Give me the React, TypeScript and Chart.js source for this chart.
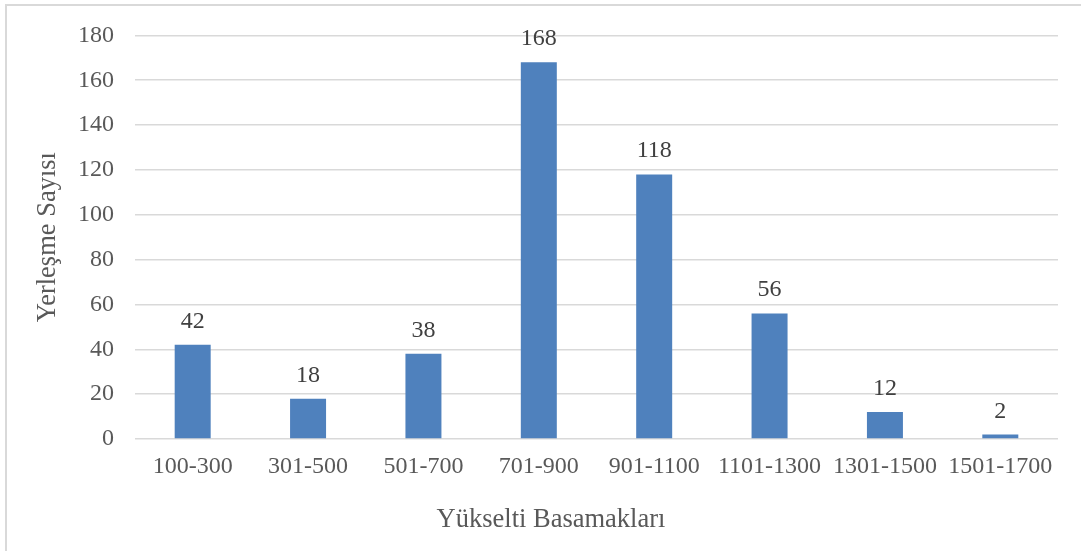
import React, { useEffect, useRef } from "react";
import { Chart, registerables } from "chart.js";

Chart.register(...registerables);

const categories = ["100-300", "301-500", "501-700", "701-900", "901-1100", "1101-1300", "1301-1500", "1501-1700"];
const settlementCounts = [42, 18, 38, 168, 118, 56, 12, 2];
const yMin = 0;
const yMax = 180;
const yStep = 20;
const xTitle = "Yükselti Basamakları";
const yTitle = "Yerleşme Sayısı";

const FONT = "'Liberation Serif', 'Times New Roman', serif";
const TEXT = "#595959";

const valueLabels = {
  id: "valueLabels",
  afterDatasetsDraw(chart: any) {
    const ctx = chart.ctx;
    const meta = chart.getDatasetMeta(0);
    ctx.save();
    ctx.font = `24px ${FONT}`;
    ctx.fillStyle = "#404040";
    ctx.textAlign = "center";
    ctx.textBaseline = "alphabetic";
    meta.data.forEach((bar: any, i: number) => {
      ctx.fillText(String(settlementCounts[i]), bar.x, bar.y - 17);
    });
    ctx.restore();
  },
};

export default function App() {
  const ref = useRef<HTMLCanvasElement | null>(null);
  useEffect(() => {
    if (!ref.current) return;
    const chart = new Chart(ref.current, {
      type: "bar",
      data: {
        labels: categories,
        datasets: [
          {
            data: settlementCounts,
            backgroundColor: "#4F81BD",
            categoryPercentage: 1,
            barPercentage: 0.312,
          },
        ],
      },
      options: {
        animation: false,
        responsive: false,
        devicePixelRatio: 1,
        layout: { padding: { left: 44, right: 23, top: 34, bottom: 0 } },
        plugins: {
          legend: { display: false },
          tooltip: { enabled: false },
          title: {
            display: true,
            position: "bottom",
            text: xTitle,
            color: TEXT,
            font: { family: FONT, size: 26.5, weight: "normal" },
            padding: { top: 0, bottom: 15.1 },
          },
        },
        scales: {
          x: {
            grid: { display: false },
            border: { display: false },
            ticks: {
              color: TEXT,
              font: { family: FONT, size: 24 },
              padding: 5,
              maxRotation: 0,
              autoSkip: false,
            },
            afterFit: (s: any) => {
              s.height = 65.1;
            },
          },
          y: {
            min: yMin,
            max: yMax,
            ticks: {
              stepSize: yStep,
              padding: 21,
              color: TEXT,
              font: { family: FONT, size: 24 },
            },
            grid: { color: "#d9d9d9", drawTicks: false, lineWidth: 1.5 },
            border: { display: false },
            title: {
              display: true,
              text: yTitle,
              color: TEXT,
              font: { family: FONT, size: 26.5 },
              padding: { top: -11.9, bottom: 0 },
            },
            afterFit: (s: any) => {
              s.width = 91;
            },
          },
        },
      },
      plugins: [valueLabels],
    } as any);
    return () => chart.destroy();
  }, []);

  return (
    <div style={{ position: "fixed", left: 0, top: 0, width: 1081, height: 551, background: "#fff", overflow: "hidden" }}>
      <div
        style={{
          position: "absolute",
          left: 5,
          top: 4,
          width: 1200,
          height: 700,
          border: "2px solid #d9d9d9",
          boxSizing: "border-box",
        }}
      />
      <canvas ref={ref} width={1081} height={551} style={{ position: "absolute", left: 0, top: 0 }} />
    </div>
  );
}
